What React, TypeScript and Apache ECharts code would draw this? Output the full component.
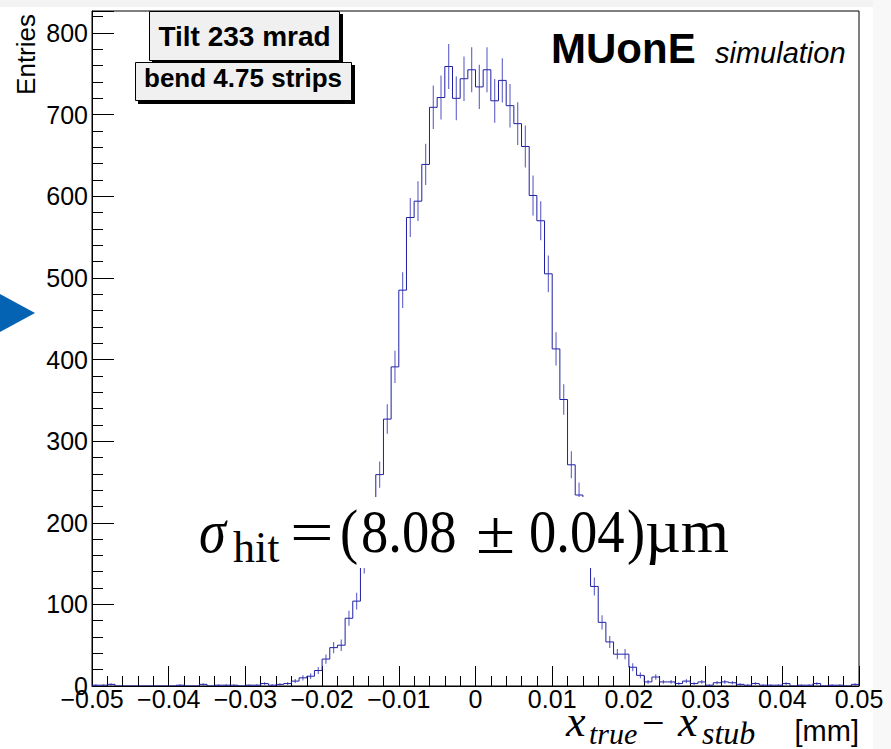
import React, { useEffect, useRef } from "react";
import * as echarts from "echarts";

// Histogram: 100 bins from -0.05 to 0.05 mm
const xMin = -0.05;
const xMax = 0.05;
const binWidth = 0.001;
const entries = [
  1, 1, 2, 0, 0, 0, 0, 0, 0, 0,
  0, 1, 0, 0, 2, 0, 1, 1, 1, 0,
  1, 1, 3, 1, 2, 3, 6, 10, 12, 19,
  33, 47, 50, 83, 104, 150, 195, 259, 327, 391,
  485, 574, 594, 639, 709, 721, 759, 720, 744, 755,
  734, 755, 717, 742, 711, 689, 661, 601, 570, 505,
  413, 351, 271, 234, 170, 122, 78, 54, 39, 39,
  23, 13, 5, 11, 5, 5, 3, 6, 3, 5,
  1, 4, 5, 4, 2, 1, 3, 1, 1, 1,
  3, 0, 1, 1, 3, 0, 1, 1, 0, 2,
];
const yMax = 827;
const yMajor = 100;
const yMinor = 20;
const xMajor = 0.01;

const STEP = "#1f1fa3";
const ERR = "#2f2fb8";
const SANS = "Liberation Sans, Arial, Helvetica, sans-serif";
const SERIF = "Liberation Serif, Times New Roman, serif";

function txt(text: string, x: number, baseline: number, fs: number, o: any = {}) {
  return {
    type: "text",
    x,
    y: baseline - 0.35 * fs,
    z: 100,
    scaleX: o.scaleX || 1,
    style: {
      text,
      fontSize: fs,
      fontFamily: o.family || SANS,
      fontWeight: o.weight || "normal",
      fontStyle: o.style || "normal",
      fill: o.fill || "#000",
      align: o.align || "left",
      verticalAlign: "middle",
    },
  };
}

export default function App() {
  const ref = useRef<HTMLDivElement>(null);
  useEffect(() => {
    if (!ref.current) return;
    const chart = echarts.init(ref.current, undefined, { renderer: "svg" });
    const data = entries.map((v, i) => [xMin + i * binWidth, v, i > 0 ? entries[i - 1] : 0]);
    const n = entries.length;
    const sig = { family: SERIF, scaleX: 0.88 };
    const option: any = {
      animation: false,
      backgroundColor: "#ffffff",
      grid: {
        left: 92, right: 32, top: 11, bottom: 63,
        show: true, borderColor: "#000", borderWidth: 1, backgroundColor: "transparent",
      },
      xAxis: {
        type: "value", min: xMin, max: xMax, interval: xMajor,
        axisLine: { onZero: false, lineStyle: { color: "#000", width: 1 } },
        axisTick: { inside: true, length: 20, lineStyle: { color: "#000", width: 1 } },
        minorTick: { show: true, splitNumber: 5, length: 10, lineStyle: { color: "#000", width: 1 } },
        splitLine: { show: false },
        minorSplitLine: { show: false },
        axisLabel: {
          color: "#000", fontSize: 25, fontFamily: SANS, margin: 0,
          formatter: (v: number) => {
            if (Math.abs(v) < 1e-9) return "0";
            return (v < 0 ? "\u2212" : "") + Math.abs(v).toFixed(2);
          },
        },
      },
      yAxis: [
        {
          type: "value", min: 0, max: yMax, interval: yMajor, position: "left",
          axisLine: { show: true, onZero: false, lineStyle: { color: "#000", width: 1 } },
          axisTick: { show: true, inside: true, length: 22, lineStyle: { color: "#000", width: 1 } },
          splitLine: { show: false },
          axisLabel: {
            color: "#000", fontSize: 25, fontFamily: SANS, margin: 4,
            formatter: (v: number) => (v % yMajor === 0 ? String(v) : ""),
          },
        },
        {
          type: "value", min: 0, max: yMax, interval: yMinor, position: "left",
          axisLine: { show: false, onZero: false },
          axisTick: { show: true, inside: true, length: 11, lineStyle: { color: "#000", width: 1 } },
          splitLine: { show: false },
          axisLabel: { show: false },
        },
      ],
      series: [
        {
          type: "custom",
          xAxisIndex: 0,
          yAxisIndex: 0,
          clip: true,
          z: 5,
          encode: { x: 0, y: 1 },
          data,
          renderItem: (params: any, api: any) => {
            const x0 = api.value(0);
            const v = api.value(1);
            const pv = api.value(2);
            const x1 = x0 + binWidth;
            const xc = x0 + binWidth / 2;
            const a = api.coord([x0, pv]);
            const b = api.coord([x0, v]);
            const c = api.coord([x1, v]);
            const pts = [a, b, c];
            if (params.dataIndex === n - 1) pts.push(api.coord([x1, 0]));
            const children: any[] = [
              { type: "polyline", shape: { points: pts }, style: { stroke: STEP, fill: "none", lineWidth: 1 } },
            ];
            if (v > 0) {
              const e = Math.sqrt(v);
              const p = api.coord([xc, v + e]);
              const q = api.coord([xc, v - e]);
              children.push({
                type: "line",
                shape: { x1: p[0], y1: p[1], x2: q[0], y2: q[1] },
                style: { stroke: ERR, lineWidth: 1.2, opacity: 0.7 },
              });
            }
            return { type: "group", children };
          },
        },
      ],
      graphic: [
        // page edges
        { type: "rect", z: -10, shape: { x: 0, y: 0, width: 891, height: 7 }, style: { fill: "#f3f3f3" } },
        { type: "rect", z: -10, shape: { x: 873, y: 0, width: 18, height: 749 }, style: { fill: "#f8f8f8" } },
        // blue marker triangle
        { type: "polygon", z: 100, shape: { points: [[0, 294], [35, 313], [0, 332]] }, style: { fill: "#0563b3" } },
        // label boxes
        { type: "rect", z: 99, shape: { x: 152, y: 14, width: 191, height: 50 }, style: { fill: "#000" } },
        { type: "rect", z: 99, shape: { x: 149.5, y: 11.5, width: 190, height: 49 }, style: { fill: "#f0f0f0", stroke: "#000", lineWidth: 1 } },
        txt("Tilt 233 mrad", 244.5, 46.5, 28, { weight: "bold", align: "center" }),
        { type: "rect", z: 99, shape: { x: 138, y: 65, width: 217, height: 39 }, style: { fill: "#000" } },
        { type: "rect", z: 99, shape: { x: 135.5, y: 62.5, width: 216, height: 38 }, style: { fill: "#f0f0f0", stroke: "#000", lineWidth: 1 } },
        txt("bend 4.75 strips", 243, 87.5, 26, { weight: "bold", align: "center" }),
        // experiment label
        txt("MUonE", 551, 63, 42, { weight: "bold" }),
        txt("simulation", 715, 63, 29, { style: "italic" }),
        // y-axis title (rotated)
        {
          type: "text", x: 26, y: 14, z: 100, rotation: Math.PI / 2,
          style: { text: "Entries", fontSize: 26, fontFamily: SANS, fill: "#000", align: "right", verticalAlign: "middle" },
        },
        // sigma annotation
        { type: "rect", z: 99, shape: { x: 195, y: 497, width: 540, height: 71 }, style: { fill: "#ffffff" } },
        txt("\u03c3", 199, 553, 62, { family: SERIF, style: "italic", scaleX: 0.88 }),
        txt("hit", 233, 563, 44, { family: SERIF }),
        txt("=", 290, 553, 62, { family: SERIF, scaleX: 1.25 }),
        txt("(", 340, 553, 62, sig),
        txt("8.08", 361, 553, 62, sig),
        txt("\u00b1", 476, 553, 62, { family: SERIF, scaleX: 1.15 }),
        txt("0.04", 529, 553, 62, sig),
        txt(")", 627, 553, 62, sig),
        txt("\u00b5m", 645, 553, 62, { family: SERIF }),
        // x-axis title
        txt("x", 566, 737, 44, { family: SERIF, style: "italic" }),
        txt("true", 589, 744, 30, { family: SERIF, style: "italic" }),
        txt("\u2212", 642, 736, 40, { family: SERIF }),
        txt("x", 678, 737, 44, { family: SERIF, style: "italic" }),
        txt("stub", 702, 744, 32, { family: SERIF, style: "italic" }),
        txt("[mm]", 859, 741, 29, { align: "right" }),
      ],
    };
    chart.setOption(option);
    return () => chart.dispose();
  }, []);
  return (
    <div
      ref={ref}
      style={{ position: "fixed", left: 0, top: 0, width: 891, height: 749 }}
    />
  );
}
